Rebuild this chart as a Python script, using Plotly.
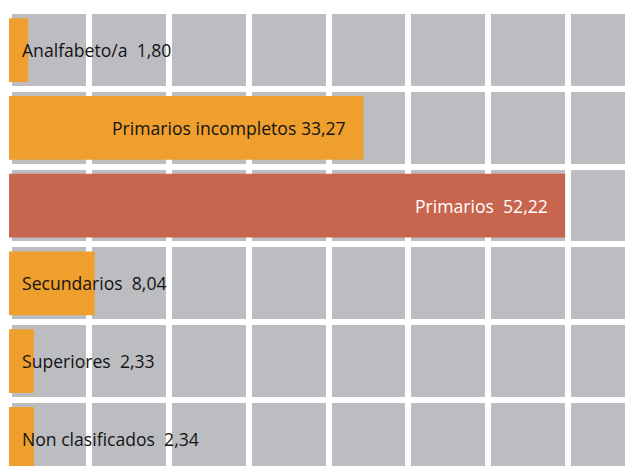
import plotly.graph_objects as go

categories = ["Analfabeto/a", "Primarios incompletos", "Primarios",
              "Secundarios", "Superiores", "Non clasificados"]
values = [1.80, 33.27, 52.22, 8.04, 2.33, 2.34]
value_labels = ["1,80", "33,27", "52,22", "8,04", "2,33", "2,34"]
separators = ["\u00a0 ", " ", "\u00a0 ", "\u00a0 ", "\u00a0 ", "\u00a0 "]

ORANGE = "#EE9F2D"
RED = "#C8654F"
GRAY = "#BCBDC1"
FONT = "Open Sans"
FSIZE = 17.6

ymax = max(values)
positions = list(range(len(categories)))
colors = [RED if v == ymax else ORANGE for v in values]

fig = go.Figure()
fig.add_trace(go.Bar(
    x=values, y=positions, orientation="h", width=0.82,
    marker=dict(color=colors, line=dict(width=0)),
    hoverinfo="skip", showlegend=False,
))

annotations = []
for i, (cat, v, lab, sep) in enumerate(zip(categories, values, value_labels, separators)):
    text = f"{cat}{sep}{lab}"
    if v > 20:
        annotations.append(dict(
            x=v, y=i, xref="x", yref="y", text=text, showarrow=False,
            xanchor="right", yanchor="middle", xshift=-15,
            font=dict(family=FONT, size=FSIZE,
                      color="#FFFFFF" if v == ymax else "#141414"),
        ))
    else:
        annotations.append(dict(
            x=0, y=i, xref="x", yref="y", text=text, showarrow=False,
            xanchor="left", yanchor="middle", xshift=11,
            font=dict(family=FONT, size=FSIZE, color="#141414"),
        ))

# the page body has an 8px margin, so the figure is sized to fill the rest
fig.update_layout(
    width=625, height=458, autosize=False,
    margin=dict(l=0, r=0, t=0, b=0, pad=0),
    paper_bgcolor="white", plot_bgcolor=GRAY,
    annotations=annotations,
    xaxis=dict(range=[-0.094, 58.59], tickmode="linear", tick0=0, dtick=7.5,
               showgrid=True, gridcolor="white", gridwidth=6,
               zeroline=True, zerolinecolor="white", zerolinewidth=6,
               showticklabels=False, ticks="", showline=False, fixedrange=True),
    yaxis=dict(range=[5.349, -0.5418], tickmode="linear", tick0=-0.5, dtick=1,
               showgrid=True, gridcolor="white", gridwidth=6,
               zeroline=False, showticklabels=False, ticks="", showline=False,
               fixedrange=True),
)

fig.write_html("out.html")
